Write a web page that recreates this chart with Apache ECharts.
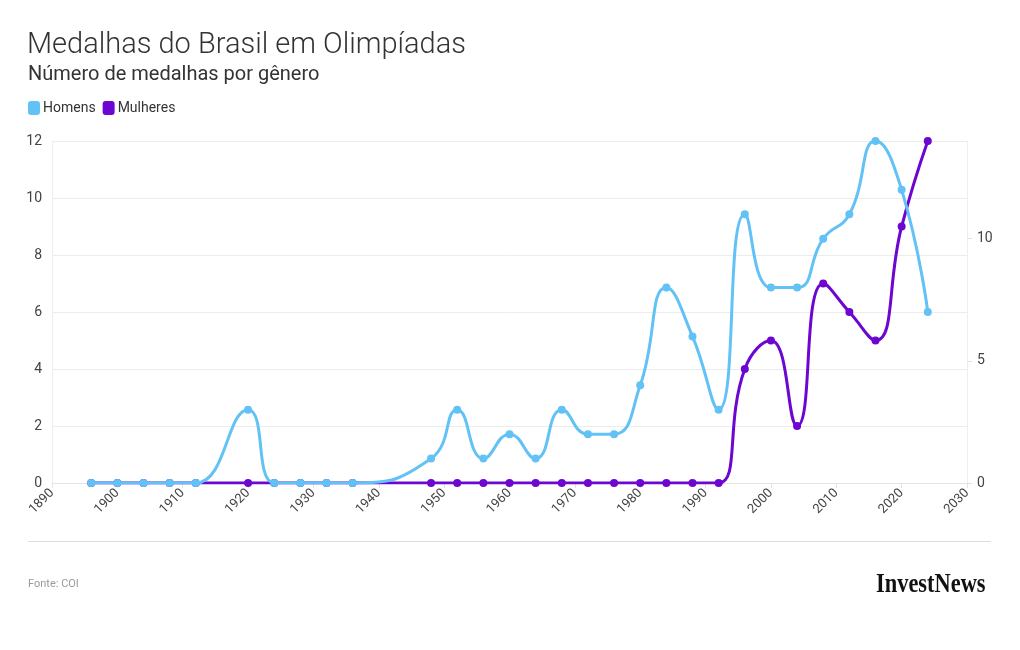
<!DOCTYPE html>
<html>
<head>
<meta charset="utf-8">
<script src="https://cdn.jsdelivr.net/npm/echarts@6/dist/echarts.min.js"></script>
<style>
html,body{margin:0;padding:0;background:#fff;}
#c{width:1020px;height:650px;}
</style>
</head>
<body>
<div id="c"></div>
<script>
const years = [1896,1900,1904,1908,1912,1920,1924,1928,1932,1936,1948,1952,1956,1960,1964,1968,1972,1976,1980,1984,1988,1992,1996,2000,2004,2008,2012,2016,2020,2024];
const homens = [0,0,0,0,0,3,0,0,0,0,1,3,1,2,1,3,2,2,4,8,6,3,11,8,8,10,11,14,12,7];
const mulheres = [0,0,0,0,0,0,0,0,0,0,0,0,0,0,0,0,0,0,0,0,0,0,4,5,2,7,6,5,9,12];
const leftTicks = [0,2,4,6,8,10,12];
const rightTicks = [0,5,10];

const FONT = 'Roboto, "Noto Sans", sans-serif';
const chart = echarts.init(document.getElementById('c'), null, {renderer:'canvas'});
chart.setOption({
  backgroundColor:'#fff',
  animation:false,
  textStyle:{fontFamily:FONT},
  title:[
    {text:'Medalhas do Brasil em Olimpíadas', left:27, top:31, padding:0,
     textStyle:{fontSize:29, fontWeight:300, color:'#333', fontFamily:FONT}},
    {text:'Número de medalhas por gênero', left:28, top:65, padding:0,
     textStyle:{fontSize:20, fontWeight:400, color:'#333', fontFamily:FONT}}
  ],
  legend:{
    left:28, top:101, padding:0, icon:'roundRect', itemWidth:12, itemHeight:14, itemGap:7,
    data:['Homens','Mulheres'],
    textStyle:{fontSize:14, color:'#333', padding:[0,0,0,-2]},
    selectedMode:false
  },
  grid:{left:52, right:53, top:141, bottom:167, containLabel:false},
  xAxis:{
    type:'value', min:1890, max:2030, interval:10,
    axisLine:{show:true, lineStyle:{color:'#e3e3e3'}},
    axisTick:{show:true, length:5, lineStyle:{color:'#e3e3e3'}},
    splitLine:{show:false},
    axisLabel:{rotate:45, fontSize:13, color:'#444', margin:8, formatter:v=>String(v)}
  },
  yAxis:[
    {type:'value', min:0, max:12, interval:2, position:'left',
     axisLine:{show:true, lineStyle:{color:'#eeeeee'}},
     axisTick:{show:false},
     splitLine:{show:true, lineStyle:{color:'#ececec'}},
     axisLabel:{fontSize:14, color:'#444', margin:10, customValues:leftTicks}},
    {type:'value', min:0, max:14, interval:5, position:'right',
     axisLine:{show:true, lineStyle:{color:'#eeeeee'}},
     axisTick:{show:true, length:5, lineStyle:{color:'#e3e3e3'}, customValues:rightTicks},
     splitLine:{show:false},
     axisLabel:{fontSize:14, color:'#444', margin:10, customValues:rightTicks}}
  ],
  series:[
    {name:'Mulheres', type:'line', yAxisIndex:0, smooth:0.5,
     data:years.map((y,i)=>[y,mulheres[i]]),
     color:'#6c06d0', symbol:'circle', symbolSize:8,
     lineStyle:{width:3, color:'#6c06d0'}, itemStyle:{color:'#6c06d0'}, z:2},
    {name:'Homens', type:'line', yAxisIndex:1, smooth:0.5,
     data:years.map((y,i)=>[y,homens[i]]),
     color:'#62c2f6', symbol:'circle', symbolSize:8,
     lineStyle:{width:3, color:'#62c2f6'}, itemStyle:{color:'#62c2f6'}, z:3}
  ],
  graphic:[
    {type:'line', shape:{x1:28, y1:541.5, x2:991, y2:541.5}, style:{stroke:'#dddddd', lineWidth:1}},
    {type:'text', left:28, top:579, style:{text:'Fonte: COI', fontSize:11, fill:'#9a9a9a', fontFamily:FONT}},
    {type:'text', x:876, y:572, scaleX:0.83, style:{text:'InvestNews', fontSize:27, fontWeight:'bold', fill:'#111', fontFamily:'"Liberation Serif", "DejaVu Serif", serif'}}
  ]
});
</script>
</body>
</html>
